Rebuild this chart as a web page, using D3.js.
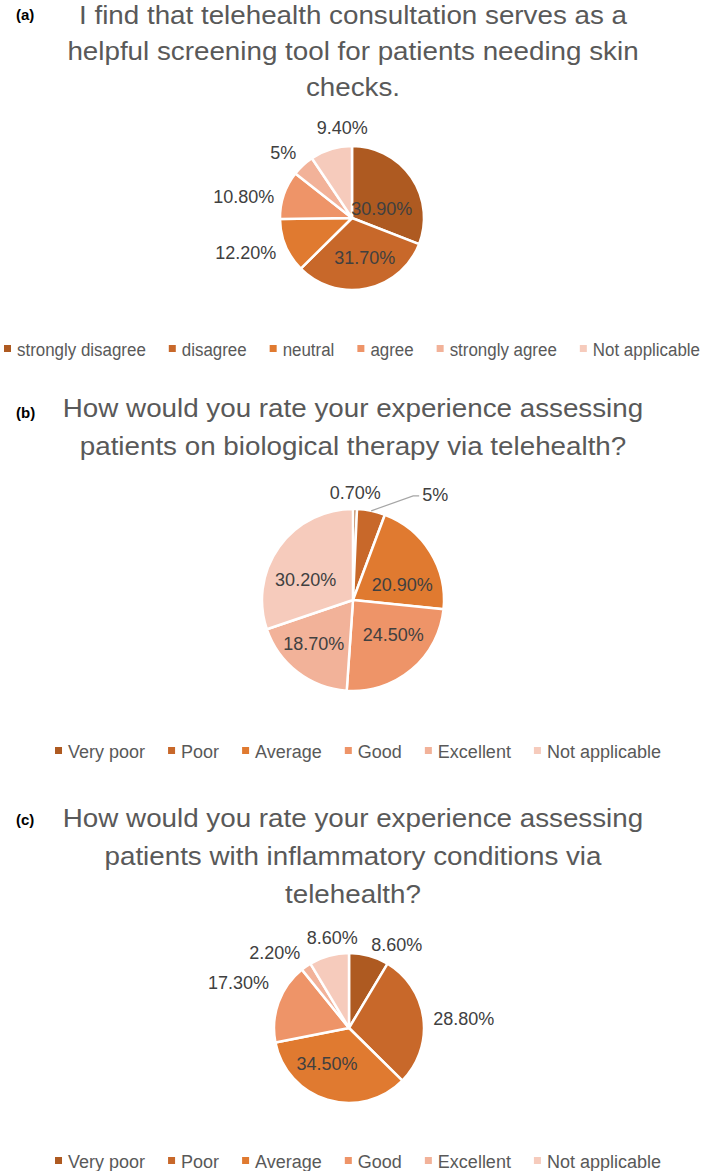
<!DOCTYPE html>
<html lang="en">
<head>
<meta charset="UTF-8">
<title>Telehealth survey pies</title>
<script src="https://cdnjs.cloudflare.com/ajax/libs/d3/7.8.5/d3.min.js"></script>
<style>
  body { margin: 0; background: #fff; }
  svg text { font-family: "Liberation Sans", Arial, sans-serif; }
</style>
</head>
<body>
<div id="draw-here"></div>
<script>
/* global d3 */

// ---- data ----
var agreeCategories = ["strongly disagree", "disagree", "neutral", "agree", "strongly agree", "Not applicable"];
var ratingCategories = ["Very poor", "Poor", "Average", "Good", "Excellent", "Not applicable"];

var screeningValues = [30.9, 31.7, 12.2, 10.8, 5, 9.4];
var biologicValues = [0.7, 5, 20.9, 24.5, 18.7, 30.2];
var inflammatoryValues = [8.6, 28.8, 34.5, 17.3, 2.2, 8.6];

var screeningTitle = ["I find that telehealth consultation serves as a",
                      "helpful screening tool for patients needing skin",
                      "checks."];
var biologicTitle = ["How would you rate your experience assessing",
                     "patients on biological therapy via telehealth?"];
var inflammatoryTitle = ["How would you rate your experience assessing",
                         "patients with inflammatory conditions via",
                         "telehealth?"];

// one colour per category, dark to light
var sliceColors = ["#AE5A21", "#C8682A", "#E07A30", "#EE9468", "#F2B299", "#F6CBBC"];

// ---- layout ----
var w = 709, h = 1171;
var titleSize = 26, legendSize = 18, labelSize = 18;
var titleTarget = 548;   // width of the first title line in the figure
var legendGap = 23;

var panels = [
  { tag: "(a)", title: screeningTitle, cats: agreeCategories, values: screeningValues,
    tagY: 20, titleY: 24, lineGap: 36, cx: 352, cy: 218, r: 72,
    legendY: 356, legendX: 4, legendWidth: 696,
    labels: [{mode: "in", dx: -6, dy: 15}, {mode: "in", dx: 4, dy: -3}, {mode: "out"},
             {mode: "out", dy: 7}, {mode: "out"}, {mode: "out", dx: 14, dy: -5}] },
  { tag: "(b)", title: biologicTitle, cats: ratingCategories, values: biologicValues,
    tagY: 418, titleY: 417, lineGap: 38, cx: 353, cy: 600, r: 91,
    legendY: 758, legendCenter: 358,
    labels: [{mode: "out"}, {mode: "leader", ldx: 42, ldy: -15},
             {mode: "in", dx: 3, dy: 13}, {mode: "in", dx: 5, dy: -7},
             {mode: "in", dx: -6, dy: 0}, {mode: "in", dx: -3, dy: 11}] },
  { tag: "(c)", title: inflammatoryTitle, cats: ratingCategories, values: inflammatoryValues,
    tagY: 825, titleY: 827, lineGap: 38, cx: 349, cy: 1028, r: 75,
    legendY: 1168, legendCenter: 358,
    labels: [{mode: "out", dx: 25, dy: 5}, {mode: "out", dy: 2}, {mode: "in", dx: -9, dy: -8},
             {mode: "out", dy: -14}, {mode: "out"}, {mode: "out", dx: 6, dy: -2}] }
];

var svg = d3.select("#draw-here").append("svg")
    .attr("width", w)
    .attr("height", h);

var fmt = function(v) {
  return (Math.round(v) === v ? v : v.toFixed(2)) + "%";
};

// work out how much the title font must be squeezed to match the figure
var probe = svg.append("text")
    .attr("font-size", titleSize)
    .text(screeningTitle[0]);
var squeeze = titleTarget / probe.node().getComputedTextLength();
probe.remove();

var pie = d3.pie().sort(null).value(function(d) { return d; });

panels.forEach(function(p) {
  var g = svg.append("g");

  // panel tag
  g.append("text")
    .attr("x", 16)
    .attr("y", p.tagY)
    .attr("font-size", 15)
    .attr("font-weight", "bold")
    .attr("fill", "#000")
    .text(p.tag);

  // title lines
  p.title.forEach(function(line, i) {
    var t = g.append("text")
      .attr("x", 353)
      .attr("y", p.titleY + i * p.lineGap)
      .attr("text-anchor", "middle")
      .attr("font-size", titleSize)
      .attr("fill", "#595959")
      .text(line);
    var nat = t.node().getComputedTextLength();
    t.attr("textLength", nat * squeeze).attr("lengthAdjust", "spacingAndGlyphs");
  });

  // slices
  var arcs = pie(p.values);
  var arc = d3.arc().innerRadius(0).outerRadius(p.r);
  var pg = g.append("g").attr("transform", "translate(" + p.cx + "," + p.cy + ")");

  pg.selectAll("path")
    .data(arcs)
    .enter()
    .append("path")
    .attr("d", arc)
    .attr("fill", function(d, i) { return sliceColors[i]; })
    .attr("stroke", "#fff")
    .attr("stroke-width", 2.5)
    .attr("stroke-linejoin", "round");

  // data labels
  arcs.forEach(function(a, i) {
    var cfg = p.labels[i];
    var th = (a.startAngle + a.endAngle) / 2;
    var s = Math.sin(th), c = Math.cos(th);
    var x, y, anchor = "middle";
    if (cfg.mode === "in") {
      x = 0.6 * p.r * s;
      y = -0.6 * p.r * c + 6.5;
    } else if (cfg.mode === "out") {
      x = (p.r + 10) * s;
      y = -(p.r + 10) * c + 6.5 - 7 * c;
      if (s > 0.35) anchor = "start";
      else if (s < -0.35) anchor = "end";
    } else {
      // leader line from the slice edge to the label
      var ex = p.r * s, ey = -p.r * c;
      var bx = ex + cfg.ldx, by = ey + cfg.ldy;
      pg.append("polyline")
        .attr("points", [[ex, ey], [bx, by], [bx + 6, by]].map(function(q) { return q.join(","); }).join(" "))
        .attr("fill", "none")
        .attr("stroke", "#A6A6A6")
        .attr("stroke-width", 1.2);
      x = bx + 9;
      y = by + 5;
      anchor = "start";
    }
    pg.append("text")
      .attr("x", x + (cfg.dx || 0))
      .attr("y", y + (cfg.dy || 0))
      .attr("text-anchor", anchor)
      .attr("font-size", labelSize)
      .attr("fill", "#404040")
      .text(fmt(p.values[i]));
  });

  // legend: measure first, squeeze the texts if the row must fit a width
  var lg = g.append("g");
  var items = p.cats.map(function(cat, i) {
    var t = lg.append("text")
      .attr("y", p.legendY)
      .attr("font-size", legendSize)
      .attr("fill", "#595959")
      .text(cat);
    return { t: t, w: t.node().getComputedTextLength(), i: i };
  });
  var textSum = d3.sum(items, function(d) { return d.w; });
  var fixed = items.length * 13 + (items.length - 1) * legendGap;
  var k = p.legendWidth ? Math.min(1, (p.legendWidth - fixed) / textSum) : 1;
  var xPos = 0;
  items.forEach(function(it) {
    lg.append("rect")
      .attr("x", xPos)
      .attr("y", p.legendY - 11)
      .attr("width", 7)
      .attr("height", 7)
      .attr("fill", sliceColors[it.i]);
    it.t.attr("x", xPos + 13);
    if (k < 1) it.t.attr("textLength", it.w * k).attr("lengthAdjust", "spacingAndGlyphs");
    xPos += 13 + it.w * k + legendGap;
  });
  var total = xPos - legendGap;
  var lx = p.legendCenter !== undefined ? p.legendCenter - total / 2 : p.legendX;
  lg.attr("transform", "translate(" + lx + ",0)");
});
</script>
</body>
</html>
